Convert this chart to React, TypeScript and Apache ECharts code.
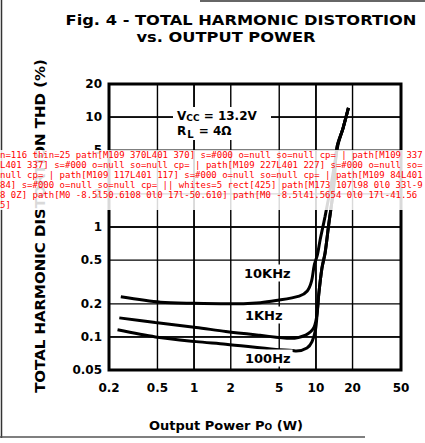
import React, { useEffect, useRef, useState } from "react";
import * as echarts from "echarts";

// Tick values (log axes)
const xTicks = [0.2, 0.5, 1, 2, 5, 10, 20, 50];
const yTicks = [0.05, 0.1, 0.2, 0.5, 1, 2, 5, 10, 20];

// 10 kHz curve: output power (W) and THD (%)
const power10k = [0.25, 0.53, 1.0, 1.9, 3.5, 4.7, 7.3, 8.5, 9.2, 9.7, 10.3, 10.8, 11.9, 13.4, 15.2, 16.7, 18.5];
const thd10k = [0.232, 0.207, 0.202, 0.2, 0.205, 0.214, 0.235, 0.262, 0.32, 0.45, 0.56, 0.75, 1.25, 2.5, 5.6, 7.9, 12.1];

// 1 kHz curve
const power1k = [0.243, 0.48, 1.04, 1.82, 3.47, 6.2, 8.24, 9.64, 10.24, 10.56, 11.2, 11.9, 12.7, 13.9, 14.9, 16.7, 18.5];
const thd1k = [0.149, 0.135, 0.122, 0.112, 0.1035, 0.097, 0.104, 0.122, 0.164, 0.245, 0.42, 0.58, 1.02, 2.14, 5.3, 7.9, 12.1];

// 100 Hz curve
const power100 = [0.235, 0.48, 1.04, 1.82, 4.7, 6.4, 6.9, 8.45, 9.3, 9.95, 10.24, 10.56, 11.2, 11.9, 12.7, 13.9, 14.9, 16.7, 18.5];
const thd100 = [0.116, 0.1, 0.0906, 0.0858, 0.0768, 0.0753, 0.0743, 0.0793, 0.0906, 0.118, 0.164, 0.245, 0.42, 0.58, 1.02, 2.14, 5.3, 7.9, 12.1];

const seriesNames = ["10KHz", "1KHz", "100Hz"];

const FONT = "DejaVu Sans";

export default function App() {
  const ref = useRef<HTMLDivElement>(null);
  const [dbg, setDbg] = useState("");
  useEffect(() => {
    if (!ref.current) return;
    const chart = echarts.init(ref.current, null, { renderer: "svg" });
    const pairs = (xs: number[], ys: number[]) => xs.map((x, i) => [x, ys[i]]);
    const fmt = (v: number) => String(+Number(v).toPrecision(3));
    const xMin = xTicks[0];
    const xMax = xTicks[xTicks.length - 1];
    const yMin = yTicks[0];
    const yMax = yTicks[yTicks.length - 1];
    const mkLine = (name: string, xs: number[], ys: number[]) => ({
      type: "line",
      name,
      data: pairs(xs, ys),
      showSymbol: false,
      symbol: "none",
      smooth: 0.3,
      lineStyle: { color: "#000", width: 3 },
      z: 6,
      silent: true,
    });
    const gridLine = (data: number[][]) => ({
      type: "line",
      data,
      showSymbol: false,
      symbol: "none",
      silent: true,
      clip: false,
      z: 4,
      lineStyle: { color: "#000", width: 1.4 },
    });
    const labelStyle = {
      color: "#000",
      fontFamily: FONT,
      fontWeight: "bold" as const,
      fontSize: 12,
    };
    chart.setOption({
      animation: false,
      backgroundColor: "#fff",
      grid: {
        left: 109,
        right: 24,
        top: 84,
        bottom: 73,
        show: true,
        borderColor: "#000",
        borderWidth: 3,
      },
      xAxis: {
        type: "log",
        logBase: 10,
        min: xMin,
        max: xMax,
        axisLine: { show: false },
        axisTick: { show: false },
        axisLabel: { ...labelStyle, customValues: xTicks, formatter: fmt, margin: 12 },
        splitLine: { show: true, lineStyle: { color: "#000", width: 1.5 } },
      },
      yAxis: {
        type: "log",
        logBase: 10,
        min: yMin,
        max: yMax,
        axisLine: { show: false },
        axisTick: { show: false },
        axisLabel: { ...labelStyle, customValues: yTicks, formatter: fmt, margin: 7 },
        splitLine: { show: true, lineStyle: { color: "#000", width: 1.5 } },
      },
      series: [
        ...xTicks.slice(1, -1).map((v) => gridLine([[v, yMin], [v, yMax]])),
        ...yTicks.slice(1, -1).map((v) => gridLine([[xMin, v], [xMax, v]])),
        mkLine(seriesNames[0], power10k, thd10k),
        mkLine(seriesNames[1], power1k, thd1k),
        mkLine(seriesNames[2], power100, thd100),
      ],
      graphic: [
        { type: "line", z: 100, shape: { x1: 1.5, y1: 0, x2: 1.5, y2: 438 }, style: { stroke: "#333", lineWidth: 1.5 } },
        { type: "line", z: 100, shape: { x1: 200, y1: 1, x2: 425, y2: 1 }, style: { stroke: "#333", lineWidth: 1.5 } },
        { type: "line", z: 100, shape: { x1: 0, y1: 437, x2: 365, y2: 437 }, style: { stroke: "#555", lineWidth: 1.5 } },
        {
          type: "text", z: 100, x: 241, y: 20, scaleX: 1.16,
          style: { text: "Fig. 4 - TOTAL HARMONIC DISTORTION", font: `bold 14px "${FONT}"`, fill: "#000", textAlign: "center", textVerticalAlign: "middle" },
        },
        {
          type: "text", z: 100, x: 226, y: 37, scaleX: 1.16,
          style: { text: "vs. OUTPUT POWER", font: `bold 14px "${FONT}"`, fill: "#000", textAlign: "center", textVerticalAlign: "middle" },
        },
        {
          type: "text", z: 100, x: 40, y: 226, rotation: Math.PI / 2, scaleX: 1.07,
          style: { text: "TOTAL HARMONIC DISTORTION THD (%)", font: `bold 14px "${FONT}"`, fill: "#000", textAlign: "center", textVerticalAlign: "middle" },
        },
        {
          type: "text", z: 100, x: 226, y: 425,
          style: {
            text: "Output Power P{s|O} (W)",
            font: `bold 13px "${FONT}"`, fill: "#000", textAlign: "center", textVerticalAlign: "middle",
            rich: { s: { fontSize: 9, fontWeight: "bold", fontFamily: FONT, padding: [4, 0, 0, 0] } },
          },
        },
        { type: "rect", z: 100, shape: { x: 173, y: 107, width: 98, height: 33 }, style: { fill: "#fff" } },
        {
          type: "text", z: 101, x: 177, y: 116,
          style: {
            text: "V{s|CC} = 13.2V",
            font: `bold 12px "${FONT}"`, fill: "#000", textAlign: "left", textVerticalAlign: "middle",
            rich: { s: { fontSize: 9, fontWeight: "bold", fontFamily: FONT, padding: [3, 0, 0, 0] } },
          },
        },
        {
          type: "text", z: 101, x: 177, y: 131,
          style: {
            text: "R{s|L} = 4Ω",
            font: `bold 12px "${FONT}"`, fill: "#000", textAlign: "left", textVerticalAlign: "middle",
            rich: { s: { fontSize: 10, fontWeight: "bold", fontFamily: FONT, padding: [6, 1, 0, 1] } },
          },
        },
        {
          type: "text", z: 101, x: 242, y: 273,
          style: { text: seriesNames[0], font: `bold 13px "${FONT}"`, fill: "#000", textAlign: "left", textVerticalAlign: "middle", backgroundColor: "#fff", padding: [2, 2] },
        },
        {
          type: "text", z: 101, x: 243, y: 315,
          style: { text: seriesNames[1], font: `bold 13px "${FONT}"`, fill: "#000", textAlign: "left", textVerticalAlign: "middle", backgroundColor: "#fff", padding: [2, 2] },
        },
        {
          type: "text", z: 101, x: 243, y: 358,
          style: { text: seriesNames[2], font: `bold 13px "${FONT}"`, fill: "#000", textAlign: "left", textVerticalAlign: "middle", backgroundColor: "#fff", padding: [2, 2] },
        },
      ],
    });
    try {
      const svg = ref.current.querySelector("svg");
      const els = svg ? Array.from(svg.querySelectorAll("*")) : [];
      const thin = els.filter((e) => {
        const w = e.getAttribute("stroke-width");
        return w === "1.5" || w === "1.4";
      });
      const whites = els.filter((e) => /^(#fff|#ffffff|white|rgb\(255, ?255, ?255\))$/i.test(e.getAttribute("fill") || ""));
      const info =
        `n=${els.length} thin=${thin.length} ` +
        thin.slice(0, 5).map((e) => `${e.tagName}[${(e.getAttribute("d") || "").slice(0, 26)}] s=${e.getAttribute("stroke")} o=${e.getAttribute("opacity")} so=${e.getAttribute("stroke-opacity")} cp=${(e.parentElement && e.parentElement.getAttribute("clip-path")) || ""}`).join(" | ") +
        ` || whites=${whites.length} ` +
        whites.slice(0, 4).map((e) => `${e.tagName}[${(e.getAttribute("d") || e.getAttribute("width") || "").slice(0, 30)}]`).join(" ");
      setDbg(info);
    } catch (e: any) {
      setDbg("err " + String(e && e.message));
    }
    return () => chart.dispose();
  }, []);
  return (
    <>
      <div
        ref={ref}
        style={{ position: "absolute", left: 0, top: 0, width: 425, height: 443 }}
      />
      <div
        style={{ position: "absolute", left: 0, top: 150, width: 425, fontSize: 9, fontFamily: "DejaVu Sans Mono", color: "red", background: "rgba(255,255,255,0.85)", wordBreak: "break-all", zIndex: 10 }}
      >
        {dbg}
      </div>
    </>
  );
}
